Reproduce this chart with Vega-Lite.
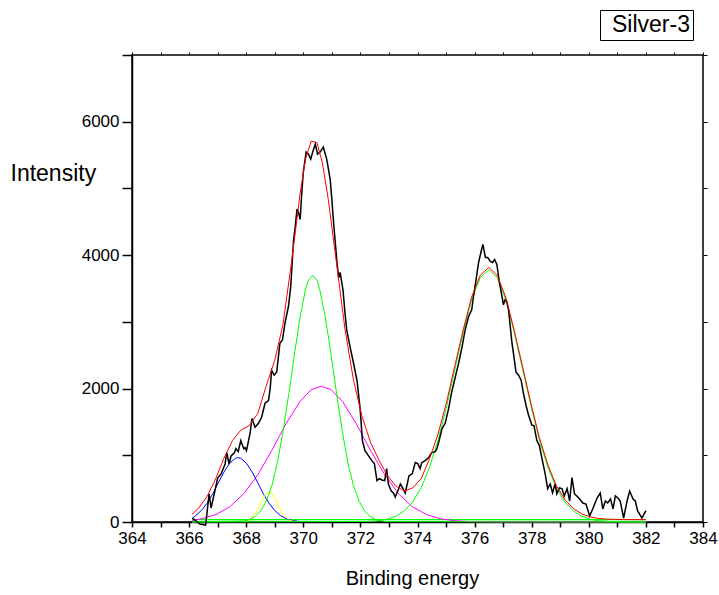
{
  "$schema": "https://vega.github.io/schema/vega-lite/v6.json",
  "width": 571,
  "height": 467,
  "autosize": {"type": "none"},
  "padding": {"left": 132, "top": 55, "right": 16, "bottom": 73},
  "background": "#ffffff",
  "config": {
    "font": "Liberation Sans",
    "view": {"stroke": "#000000", "strokeWidth": 1.5},
    "axis": {"labelFont": "Liberation Sans", "titleFont": "Liberation Sans", "labelColor": "#000000", "titleColor": "#000000", "tickColor": "#000000", "domainColor": "#000000", "grid": false, "titleFontWeight": "normal"}
  },
  "datasets": {
    "bg": [{"E": 366.1, "I": 35}, {"E": 382.0, "I": 35}],
    "magenta": [
      {"E": 366.1, "I": 23}, {"E": 366.43, "I": 47}, {"E": 366.93, "I": 109}, {"E": 367.42, "I": 226}, {"E": 367.91, "I": 422},
      {"E": 368.41, "I": 710}, {"E": 368.9, "I": 1076}, {"E": 369.39, "I": 1470}, {"E": 369.89, "I": 1810}, {"E": 370.28, "I": 1984},
      {"E": 370.63, "I": 2035}, {"E": 370.97, "I": 1984}, {"E": 371.37, "I": 1810}, {"E": 371.86, "I": 1470}, {"E": 372.35, "I": 1076},
      {"E": 372.85, "I": 710}, {"E": 373.34, "I": 422}, {"E": 373.83, "I": 226}, {"E": 374.33, "I": 109}, {"E": 374.82, "I": 47},
      {"E": 375.31, "I": 19}, {"E": 375.81, "I": 7}, {"E": 376.79, "I": 1}, {"E": 382.0, "I": 0}
    ],
    "blue": [
      {"E": 366.1, "I": 51}, {"E": 366.23, "I": 97}, {"E": 366.43, "I": 172}, {"E": 366.63, "I": 281}, {"E": 366.83, "I": 422},
      {"E": 367.02, "I": 585}, {"E": 367.22, "I": 748}, {"E": 367.42, "I": 880}, {"E": 367.62, "I": 955}, {"E": 367.71, "I": 965},
      {"E": 367.81, "I": 955}, {"E": 368.01, "I": 880}, {"E": 368.21, "I": 748}, {"E": 368.41, "I": 585}, {"E": 368.6, "I": 422},
      {"E": 368.8, "I": 281}, {"E": 369.0, "I": 172}, {"E": 369.2, "I": 97}, {"E": 369.39, "I": 51}, {"E": 369.59, "I": 24},
      {"E": 369.79, "I": 11}, {"E": 369.95, "I": 5}
    ],
    "yellow": [
      {"E": 367.91, "I": 5}, {"E": 368.11, "I": 30}, {"E": 368.31, "I": 112}, {"E": 368.5, "I": 273}, {"E": 368.6, "I": 360},
      {"E": 368.7, "I": 426}, {"E": 368.8, "I": 450}, {"E": 368.9, "I": 426}, {"E": 369.0, "I": 360}, {"E": 369.09, "I": 273},
      {"E": 369.29, "I": 112}, {"E": 369.49, "I": 30}, {"E": 369.69, "I": 5}
    ],
    "green1": [
      {"E": 366.1, "I": 0}, {"E": 367.91, "I": 15}, {"E": 368.11, "I": 36}, {"E": 368.31, "I": 80}, {"E": 368.5, "I": 163}, {"E": 368.7, "I": 308},
      {"E": 368.9, "I": 542}, {"E": 369.09, "I": 888}, {"E": 369.29, "I": 1352}, {"E": 369.49, "I": 1913}, {"E": 369.69, "I": 2516},
      {"E": 369.89, "I": 3075}, {"E": 370.08, "I": 3495}, {"E": 370.18, "I": 3625}, {"E": 370.33, "I": 3700}, {"E": 370.48, "I": 3625},
      {"E": 370.57, "I": 3495}, {"E": 370.77, "I": 3075}, {"E": 370.97, "I": 2516}, {"E": 371.17, "I": 1913}, {"E": 371.37, "I": 1352},
      {"E": 371.56, "I": 888}, {"E": 371.76, "I": 542}, {"E": 371.96, "I": 308}, {"E": 372.15, "I": 163}, {"E": 372.35, "I": 80},
      {"E": 372.55, "I": 36}, {"E": 372.75, "I": 15}, {"E": 372.94, "I": 5}, {"E": 382.0, "I": 0}
    ],
    "green2": [
      {"E": 366.1, "I": 0}, {"E": 372.35, "I": 8}, {"E": 372.65, "I": 19}, {"E": 372.94, "I": 42}, {"E": 373.24, "I": 86}, {"E": 373.54, "I": 166},
      {"E": 373.83, "I": 301}, {"E": 374.13, "I": 512}, {"E": 374.42, "I": 818}, {"E": 374.72, "I": 1227}, {"E": 375.02, "I": 1730},
      {"E": 375.31, "I": 2293}, {"E": 375.61, "I": 2853}, {"E": 375.9, "I": 3336}, {"E": 376.2, "I": 3664}, {"E": 376.5, "I": 3780},
      {"E": 376.79, "I": 3664}, {"E": 377.09, "I": 3336}, {"E": 377.38, "I": 2853}, {"E": 377.68, "I": 2293}, {"E": 377.98, "I": 1730},
      {"E": 378.27, "I": 1227}, {"E": 378.57, "I": 818}, {"E": 378.86, "I": 512}, {"E": 379.16, "I": 301}, {"E": 379.46, "I": 166},
      {"E": 379.75, "I": 86}, {"E": 380.05, "I": 42}, {"E": 380.34, "I": 19}, {"E": 380.64, "I": 8}, {"E": 381.23, "I": 1}, {"E": 382.0, "I": 0}
    ],
    "red": [
      {"E": 366.1, "I": 115}, {"E": 366.33, "I": 206}, {"E": 366.63, "I": 383}, {"E": 366.93, "I": 646}, {"E": 367.22, "I": 954},
      {"E": 367.52, "I": 1221}, {"E": 367.81, "I": 1377}, {"E": 368.11, "I": 1447}, {"E": 368.41, "I": 1630}, {"E": 368.7, "I": 2039},
      {"E": 369.0, "I": 2423}, {"E": 369.29, "I": 2963}, {"E": 369.59, "I": 3904}, {"E": 369.89, "I": 4928}, {"E": 370.08, "I": 5444},
      {"E": 370.28, "I": 5711}, {"E": 370.48, "I": 5685}, {"E": 370.67, "I": 5379}, {"E": 370.87, "I": 4851}, {"E": 371.17, "I": 3859},
      {"E": 371.46, "I": 2892}, {"E": 371.76, "I": 2122}, {"E": 372.06, "I": 1578}, {"E": 372.35, "I": 1199}, {"E": 372.65, "I": 927},
      {"E": 372.94, "I": 700}, {"E": 373.24, "I": 540}, {"E": 373.54, "I": 465}, {"E": 373.83, "I": 510}, {"E": 374.13, "I": 650},
      {"E": 374.42, "I": 946}, {"E": 374.72, "I": 1319}, {"E": 375.02, "I": 1798}, {"E": 375.31, "I": 2347}, {"E": 375.61, "I": 2898},
      {"E": 375.9, "I": 3376}, {"E": 376.2, "I": 3701}, {"E": 376.5, "I": 3815}, {"E": 376.79, "I": 3699}, {"E": 377.09, "I": 3371},
      {"E": 377.38, "I": 2888}, {"E": 377.68, "I": 2328}, {"E": 377.98, "I": 1765}, {"E": 378.27, "I": 1262}, {"E": 378.57, "I": 853},
      {"E": 378.86, "I": 547}, {"E": 379.16, "I": 336}, {"E": 379.46, "I": 201}, {"E": 379.75, "I": 121}, {"E": 380.05, "I": 77},
      {"E": 380.34, "I": 54}, {"E": 380.64, "I": 43}, {"E": 381.23, "I": 36}, {"E": 382.0, "I": 35}
    ],
    "raw": [
      {"E": 366.11, "I": 60}, {"E": 366.23, "I": 20}, {"E": 366.38, "I": -30}, {"E": 366.58, "I": -45}, {"E": 366.7, "I": 420},
      {"E": 366.77, "I": 210}, {"E": 366.89, "I": 440}, {"E": 367.0, "I": 660}, {"E": 367.12, "I": 720}, {"E": 367.26, "I": 870},
      {"E": 367.32, "I": 1040}, {"E": 367.4, "I": 870}, {"E": 367.47, "I": 990}, {"E": 367.59, "I": 1040}, {"E": 367.64, "I": 1100},
      {"E": 367.72, "I": 1055}, {"E": 367.81, "I": 1220}, {"E": 367.91, "I": 1100}, {"E": 367.96, "I": 1115}, {"E": 368.01, "I": 1070},
      {"E": 368.14, "I": 1340}, {"E": 368.2, "I": 1550}, {"E": 368.31, "I": 1420}, {"E": 368.43, "I": 1480}, {"E": 368.54, "I": 1570},
      {"E": 368.66, "I": 1780}, {"E": 368.78, "I": 1820}, {"E": 368.84, "I": 2000}, {"E": 368.89, "I": 2275}, {"E": 368.98, "I": 2200},
      {"E": 369.07, "I": 2250}, {"E": 369.18, "I": 2680}, {"E": 369.27, "I": 2730}, {"E": 369.36, "I": 2985}, {"E": 369.48, "I": 3230},
      {"E": 369.56, "I": 3530}, {"E": 369.66, "I": 4235}, {"E": 369.72, "I": 4435}, {"E": 369.78, "I": 4690}, {"E": 369.83, "I": 4640},
      {"E": 369.89, "I": 4535}, {"E": 369.94, "I": 4890}, {"E": 370.0, "I": 5245}, {"E": 370.1, "I": 5545}, {"E": 370.18, "I": 5515},
      {"E": 370.26, "I": 5440}, {"E": 370.33, "I": 5545}, {"E": 370.42, "I": 5665}, {"E": 370.5, "I": 5515}, {"E": 370.59, "I": 5545},
      {"E": 370.7, "I": 5620}, {"E": 370.82, "I": 5440}, {"E": 370.94, "I": 5140}, {"E": 371.0, "I": 4840}, {"E": 371.06, "I": 4490},
      {"E": 371.12, "I": 4190}, {"E": 371.18, "I": 3890}, {"E": 371.24, "I": 3660}, {"E": 371.29, "I": 3740}, {"E": 371.39, "I": 3480},
      {"E": 371.46, "I": 3135}, {"E": 371.52, "I": 2880}, {"E": 371.64, "I": 2620}, {"E": 371.76, "I": 2380}, {"E": 371.88, "I": 2125},
      {"E": 371.99, "I": 1700}, {"E": 372.07, "I": 1220}, {"E": 372.16, "I": 1070}, {"E": 372.28, "I": 995}, {"E": 372.4, "I": 920},
      {"E": 372.49, "I": 875}, {"E": 372.58, "I": 620}, {"E": 372.66, "I": 650}, {"E": 372.75, "I": 630}, {"E": 372.85, "I": 620},
      {"E": 372.92, "I": 800}, {"E": 372.98, "I": 570}, {"E": 373.08, "I": 465}, {"E": 373.16, "I": 435}, {"E": 373.22, "I": 375},
      {"E": 373.31, "I": 465}, {"E": 373.4, "I": 570}, {"E": 373.48, "I": 510}, {"E": 373.57, "I": 435}, {"E": 373.64, "I": 570},
      {"E": 373.7, "I": 690}, {"E": 373.82, "I": 725}, {"E": 373.92, "I": 890}, {"E": 374.01, "I": 875}, {"E": 374.09, "I": 800},
      {"E": 374.15, "I": 890}, {"E": 374.27, "I": 920}, {"E": 374.39, "I": 965}, {"E": 374.5, "I": 1040}, {"E": 374.62, "I": 1055},
      {"E": 374.68, "I": 1100}, {"E": 374.74, "I": 1190}, {"E": 374.86, "I": 1400}, {"E": 374.97, "I": 1480}, {"E": 375.09, "I": 1700},
      {"E": 375.2, "I": 1950}, {"E": 375.38, "I": 2275}, {"E": 375.44, "I": 2380}, {"E": 375.56, "I": 2625}, {"E": 375.67, "I": 2880},
      {"E": 375.79, "I": 3080}, {"E": 375.9, "I": 3180}, {"E": 375.96, "I": 3380}, {"E": 376.05, "I": 3630}, {"E": 376.14, "I": 3890},
      {"E": 376.22, "I": 4040}, {"E": 376.29, "I": 4160}, {"E": 376.38, "I": 3965}, {"E": 376.46, "I": 3965}, {"E": 376.55, "I": 3905},
      {"E": 376.63, "I": 3890}, {"E": 376.7, "I": 3935}, {"E": 376.78, "I": 3860}, {"E": 376.87, "I": 3590}, {"E": 376.96, "I": 3380},
      {"E": 377.01, "I": 3255}, {"E": 377.07, "I": 3330}, {"E": 377.13, "I": 3300}, {"E": 377.19, "I": 3180}, {"E": 377.25, "I": 2925},
      {"E": 377.31, "I": 2680}, {"E": 377.36, "I": 2530}, {"E": 377.45, "I": 2245}, {"E": 377.54, "I": 2200}, {"E": 377.63, "I": 2125},
      {"E": 377.71, "I": 1930}, {"E": 377.8, "I": 1750}, {"E": 377.89, "I": 1600}, {"E": 378.01, "I": 1450}, {"E": 378.08, "I": 1445},
      {"E": 378.18, "I": 1220}, {"E": 378.27, "I": 1145}, {"E": 378.36, "I": 950}, {"E": 378.47, "I": 725}, {"E": 378.56, "I": 500},
      {"E": 378.65, "I": 570}, {"E": 378.73, "I": 435}, {"E": 378.82, "I": 570}, {"E": 378.88, "I": 420}, {"E": 378.97, "I": 510},
      {"E": 379.06, "I": 500}, {"E": 379.14, "I": 390}, {"E": 379.24, "I": 500}, {"E": 379.33, "I": 315}, {"E": 379.41, "I": 665},
      {"E": 379.5, "I": 420}, {"E": 379.58, "I": 390}, {"E": 379.68, "I": 345}, {"E": 379.79, "I": 285}, {"E": 379.9, "I": 270},
      {"E": 380.03, "I": 90}, {"E": 380.15, "I": 210}, {"E": 380.29, "I": 360}, {"E": 380.4, "I": 435}, {"E": 380.49, "I": 195},
      {"E": 380.58, "I": 315}, {"E": 380.66, "I": 285}, {"E": 380.76, "I": 345}, {"E": 380.85, "I": 195}, {"E": 380.93, "I": 390},
      {"E": 381.02, "I": 360}, {"E": 381.1, "I": 315}, {"E": 381.22, "I": 60}, {"E": 381.34, "I": 315}, {"E": 381.43, "I": 465},
      {"E": 381.55, "I": 345}, {"E": 381.63, "I": 315}, {"E": 381.71, "I": 165}, {"E": 381.86, "I": 60}, {"E": 382.0, "I": 170}
    ]
  },
  "resolve": {"axis": {"x": "independent", "y": "independent"}},
  "layer": [
    {
      "data": {"name": "bg"},
      "mark": {"type": "line", "color": "#00ff00", "strokeWidth": 1.2},
      "encoding": {
        "x": {"field": "E", "type": "quantitative", "scale": {"domain": [364, 384], "nice": false, "zero": false},
          "axis": {"orient": "bottom", "values": [364,365,366,367,368,369,370,371,372,373,374,375,376,377,378,379,380,381,382,383,384],
            "labelExpr": "datum.value % 2 === 0 ? datum.label : ''", "format": "d", "labelFontSize": 17, "labelFlush": false, "labelOverlap": false,
            "tickSize": 5, "tickWidth": 1.5, "domainWidth": 1.5, "labelPadding": 3,
            "title": "Binding energy", "titleFontSize": 20, "titleBaseline": "middle", "titleX": 280, "titleY": 56}},
        "y": {"field": "I", "type": "quantitative", "scale": {"domain": [0, 7000], "nice": false},
          "axis": {"orient": "left", "values": [0,1000,2000,3000,4000,5000,6000,7000],
            "labelExpr": "datum.value % 2000 === 0 && datum.value < 7000 ? datum.label : ''", "format": "d", "labelFontSize": 17, "labelOverlap": false,
            "tickSize": 10, "tickWidth": 1.5, "domainWidth": 1.5, "labelPadding": 3,
            "encode": {"ticks": {"update": {"x2": {"signal": "datum.value % 2000 === 0 ? -10 : -5"}}}},
            "title": "Intensity", "titleFontSize": 23, "titleAngle": 0, "titleAlign": "left", "titleBaseline": "middle", "titleX": -122, "titleY": 118}}
      }
    },
    {
      "data": {"name": "magenta"},
      "mark": {"type": "line", "color": "#ff00ff", "strokeWidth": 1},
      "encoding": {
        "x": {"field": "E", "type": "quantitative", "axis": {"orient": "top", "values": [364,365,366,367,368,369,370,371,372,373,374,375,376,377,378,379,380,381,382,383,384], "labels": false, "tickSize": 3, "domain": false, "title": null}},
        "y": {"field": "I", "type": "quantitative", "axis": {"orient": "right", "values": [0,1000,2000,3000,4000,5000,6000,7000], "labels": false, "tickSize": 4, "domain": false, "title": null}}
      }
    },
    {
      "data": {"name": "blue"},
      "mark": {"type": "line", "color": "#0000ff", "strokeWidth": 1},
      "encoding": {"x": {"field": "E", "type": "quantitative", "axis": null}, "y": {"field": "I", "type": "quantitative", "axis": null}}
    },
    {
      "data": {"name": "yellow"},
      "mark": {"type": "line", "color": "#ffff00", "strokeWidth": 1},
      "encoding": {"x": {"field": "E", "type": "quantitative", "axis": null}, "y": {"field": "I", "type": "quantitative", "axis": null}}
    },
    {
      "data": {"name": "green1"},
      "mark": {"type": "line", "color": "#00ff00", "strokeWidth": 1},
      "encoding": {"x": {"field": "E", "type": "quantitative", "axis": null}, "y": {"field": "I", "type": "quantitative", "axis": null}}
    },
    {
      "data": {"name": "green2"},
      "mark": {"type": "line", "color": "#00ff00", "strokeWidth": 1},
      "encoding": {"x": {"field": "E", "type": "quantitative", "axis": null}, "y": {"field": "I", "type": "quantitative", "axis": null}}
    },
    {
      "data": {"name": "raw"},
      "mark": {"type": "line", "strokeWidth": 1.5},
      "encoding": {
        "x": {"field": "E", "type": "quantitative", "axis": null},
        "y": {"field": "I", "type": "quantitative", "axis": null},
        "color": {"datum": "Silver-3", "scale": {"range": ["#000000"]},
          "legend": {"orient": "none", "legendX": 468, "legendY": -45, "title": null, "symbolOpacity": 0, "symbolSize": 0, "symbolStrokeWidth": 0,
            "labelFontSize": 23, "labelFont": "Liberation Sans", "labelColor": "#000000", "labelOffset": -14, "padding": 3, "strokeColor": "#000000"}}
      }
    },
    {
      "data": {"name": "red"},
      "mark": {"type": "line", "color": "#ff0000", "strokeWidth": 1},
      "encoding": {"x": {"field": "E", "type": "quantitative", "axis": null}, "y": {"field": "I", "type": "quantitative", "axis": null}}
    }
  ]
}
